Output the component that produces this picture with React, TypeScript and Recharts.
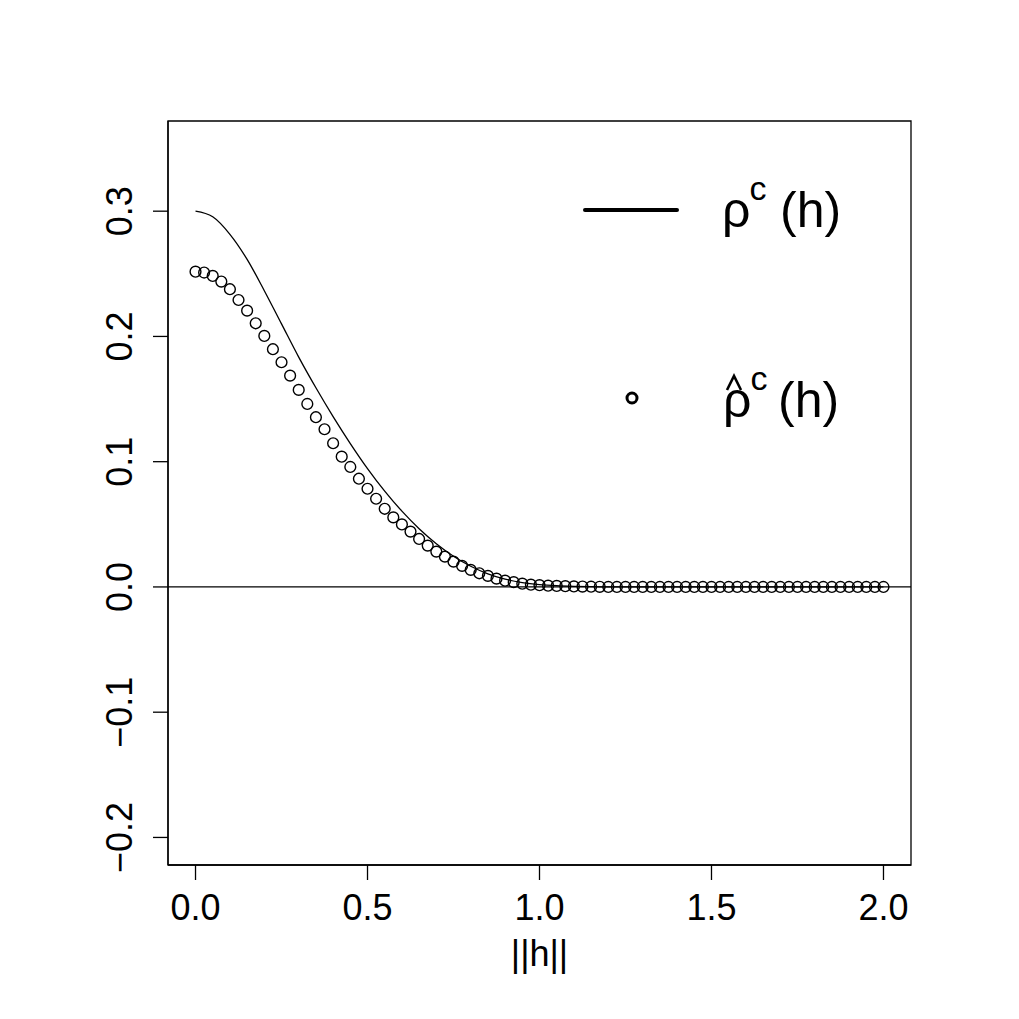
import React from 'react';
import {
  ComposedChart,
  Line,
  Scatter,
  XAxis,
  YAxis,
  ReferenceLine,
  ReferenceArea,
  Legend,
} from 'recharts';

// Empirical (estimated) correlation, circles
const circleH = [
  0, 0.025, 0.05, 0.075, 0.1, 0.125, 0.15, 0.175, 0.2, 0.225,
  0.25, 0.275, 0.3, 0.325, 0.35, 0.375, 0.4, 0.425, 0.45, 0.475,
  0.5, 0.525, 0.55, 0.575, 0.6, 0.625, 0.65, 0.675, 0.7, 0.725,
  0.75, 0.775, 0.8, 0.825, 0.85, 0.875, 0.9, 0.925, 0.95, 0.975,
  1.0, 1.025, 1.05, 1.075, 1.1, 1.125, 1.15, 1.175, 1.2, 1.225,
  1.25, 1.275, 1.3, 1.325, 1.35, 1.375, 1.4, 1.425, 1.45, 1.475,
  1.5, 1.525, 1.55, 1.575, 1.6, 1.625, 1.65, 1.675, 1.7, 1.725,
  1.75, 1.775, 1.8, 1.825, 1.85, 1.875, 1.9, 1.925, 1.95, 1.975,
  2.0,
];
const circleRho = [
  0.2517, 0.251, 0.2483, 0.2438, 0.2377, 0.2291, 0.2206, 0.2105, 0.2004, 0.1898,
  0.1794, 0.1687, 0.1573, 0.1461, 0.1355, 0.1259, 0.1147, 0.104, 0.0958, 0.0864,
  0.0784, 0.0704, 0.0624, 0.0555, 0.0499, 0.0442, 0.0383, 0.033, 0.0282, 0.0242,
  0.0202, 0.0168, 0.0136, 0.0109, 0.0088, 0.0066, 0.005, 0.0038, 0.0026, 0.0018,
  0.0014, 0.001, 0.0008, 0.0006, 0.0004, 0.0003, 0.0002, 0.0001, 0, 0,
  0, 0, 0, 0, 0, 0, 0, 0, 0, 0,
  0, 0, 0, 0, 0, 0, 0, 0, 0, 0,
  0, 0, 0, 0, 0, 0, 0, 0, 0, 0,
  0,
];

// Theoretical correlation, solid line
const lineH = [
  0, 0.05, 0.1, 0.15, 0.2, 0.25, 0.3, 0.35, 0.4, 0.45,
  0.5, 0.55, 0.6, 0.65, 0.7, 0.75, 0.8, 0.85, 0.9, 0.95,
  1.0, 1.05, 1.1, 1.15, 1.2, 1.25, 1.3, 1.35, 1.4, 1.45,
  1.5, 1.55, 1.6, 1.65, 1.7, 1.75, 1.8, 1.85, 1.9, 1.95,
  2.0,
];
const lineRho = [
  0.3, 0.2955, 0.2815, 0.2615, 0.2365, 0.21, 0.1835, 0.159, 0.136, 0.1145,
  0.0945, 0.0765, 0.0605, 0.0465, 0.0345, 0.0245, 0.0165, 0.0105, 0.0062, 0.0035,
  0.0019, 0.001, 0.0005, 0.0002, 0.0001, 0, 0, 0, 0, 0,
  0, 0, 0, 0, 0, 0, 0, 0, 0, 0,
  0,
];

const xTicks = [0, 0.5, 1, 1.5, 2];
const xTickLabels = ['0.0', '0.5', '1.0', '1.5', '2.0'];
const yTicks = [-0.2, -0.1, 0, 0.1, 0.2, 0.3];
const yTickLabels = ['\u22120.2', '\u22120.1', '0.0', '0.1', '0.2', '0.3'];
const xLabel = '||h||';

const circleData = circleH.map((h, i) => ({ h, rho: circleRho[i] }));
const lineData = lineH.map((h, i) => ({ h, rho: lineRho[i] }));

const FONT = '"Liberation Sans", Arial, Helvetica, sans-serif';

const XTick = (props: any) => {
  const { x, y, payload } = props;
  const idx = xTicks.findIndex((t) => Math.abs(t - payload.value) < 1e-9);
  return (
    <text x={x} y={y + 40} textAnchor="middle" fontSize={36} fontFamily={FONT} fill="#000">
      {idx >= 0 ? xTickLabels[idx] : String(payload.value)}
    </text>
  );
};

const YTick = (props: any) => {
  const { x, y, payload } = props;
  const idx = yTicks.findIndex((t) => Math.abs(t - payload.value) < 1e-9);
  const bx = x - 21;
  return (
    <text
      x={bx}
      y={y}
      transform={`rotate(-90, ${bx}, ${y})`}
      textAnchor="middle"
      fontSize={36}
      fontFamily={FONT}
      fill="#000"
    >
      {idx >= 0 ? yTickLabels[idx] : String(payload.value)}
    </text>
  );
};

const CircleShape = (props: any) => {
  const { cx, cy } = props;
  if (cx == null || cy == null) return null;
  return <circle cx={cx} cy={cy} r={5.4} fill="none" stroke="#000" strokeWidth={1.4} />;
};

const LegendContent = () => (
  <svg width={300} height={280} style={{ overflow: 'visible' }}>
    <line x1={25} y1={40} x2={117} y2={40} stroke="#000" strokeWidth={4} strokeLinecap="round" />
    <text x={162} y={57} fontSize={50} fontFamily={FONT} fill="#000">
      ρ<tspan fontSize={34} dy={-27} dx={-1}>c</tspan>
    </text>
    <text x={220} y={57} fontSize={50} fontFamily={FONT} fill="#000">(h)</text>

    <circle cx={72} cy={228} r={5} fill="none" stroke="#000" strokeWidth={3} />
    <text x={163} y={247} fontSize={50} fontFamily={FONT} fill="#000">
      ρ<tspan fontSize={34} dy={-27} dx={-1}>c</tspan>
    </text>
    {/* circumflex accent over rho */}
    <polyline
      points="167,220 174,206 181,220"
      fill="none"
      stroke="#000"
      strokeWidth={2.6}
      strokeLinejoin="miter"
    />
    <text x={218} y={247} fontSize={50} fontFamily={FONT} fill="#000">(h)</text>
  </svg>
);

export default function App() {
  return (
    <div style={{ position: 'absolute', left: 0, top: 0, width: 1019, height: 1019, background: '#fff' }}>
      <ComposedChart
        width={1019}
        height={1019}
        margin={{ top: 121, right: 108, bottom: 0, left: 0 }}
      >
        <XAxis
          type="number"
          dataKey="h"
          domain={[-0.08, 2.08]}
          ticks={xTicks}
          interval={0}
          allowDataOverflow
          height={154}
          tickSize={15}
          tickMargin={0}
          tick={XTick}
          axisLine={{ stroke: '#000', strokeWidth: 1.3 }}
          tickLine={{ stroke: '#000', strokeWidth: 1.3 }}
          label={{
            content: (p: any) => {
              const vb = p.viewBox || { x: 168, y: 865, width: 743 };
              return (
                <text
                  x={vb.x + vb.width / 2}
                  y={vb.y + 101}
                  textAnchor="middle"
                  fontSize={36}
                  fontFamily={FONT}
                  fill="#000"
                >
                  {xLabel}
                </text>
              );
            },
          }}
        />
        <YAxis
          type="number"
          domain={[-0.222, 0.372]}
          ticks={yTicks}
          interval={0}
          allowDataOverflow
          width={168}
          tickSize={15}
          tickMargin={0}
          tick={YTick}
          axisLine={{ stroke: '#000', strokeWidth: 1.3 }}
          tickLine={{ stroke: '#000', strokeWidth: 1.3 }}
        />
        <ReferenceArea
          x1={-0.08}
          x2={2.08}
          y1={-0.222}
          y2={0.372}
          fill="none"
          stroke="#000"
          strokeWidth={1.3}
          ifOverflow="visible"
        />
        <ReferenceLine y={0} stroke="#000" strokeWidth={1.3} ifOverflow="visible" />
        <Line
          data={lineData}
          dataKey="rho"
          type="monotone"
          stroke="#000"
          strokeWidth={1.3}
          dot={false}
          activeDot={false}
          isAnimationActive={false}
        />
        <Scatter
          data={circleData}
          dataKey="rho"
          shape={CircleShape}
          isAnimationActive={false}
        />
        <Legend
          layout="vertical"
          verticalAlign="middle"
          align="center"
          content={LegendContent}
          wrapperStyle={{ left: 560, top: 170, width: 300, height: 280 }}
        />
      </ComposedChart>
    </div>
  );
}
